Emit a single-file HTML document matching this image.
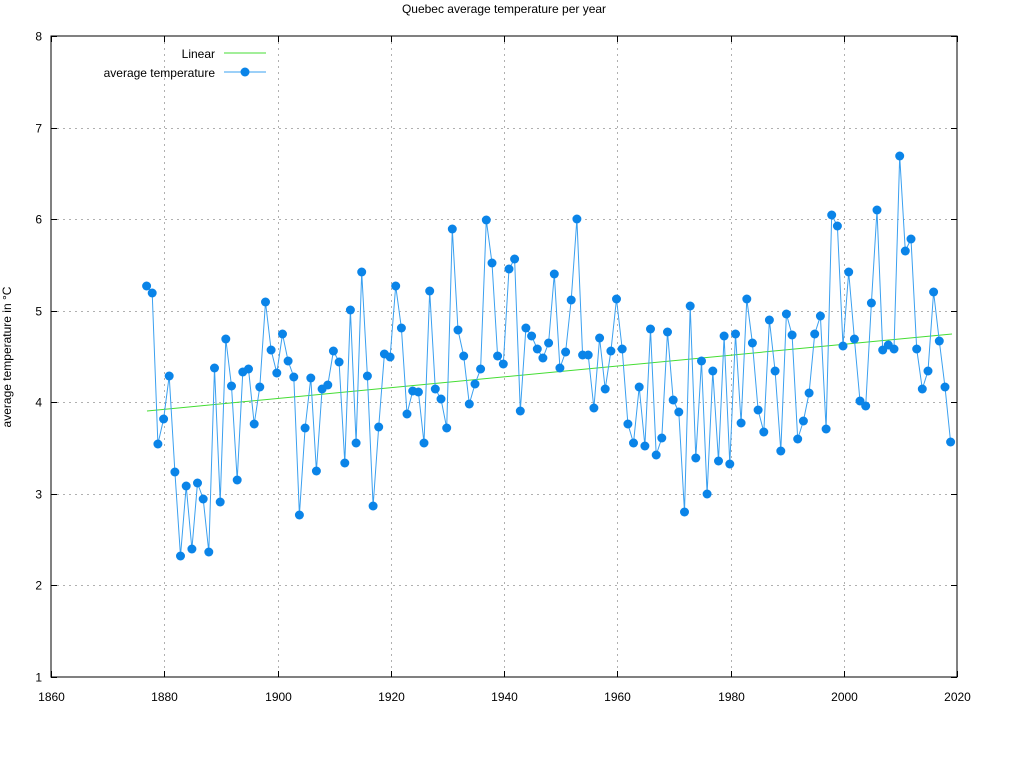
<!DOCTYPE html>
<html><head><meta charset="utf-8"><style>
html,body{margin:0;padding:0;background:#fff;}
svg{display:block;font-family:"Liberation Sans",sans-serif;}
</style></head><body>
<svg id="s" width="1024" height="768" xmlns="http://www.w3.org/2000/svg">
<text x="504" y="13" font-size="12" text-anchor="middle">Quebec average temperature per year</text>
<text transform="translate(11,357) rotate(-90)" font-size="12" text-anchor="middle">average temperature in °C</text>
<g id="grid" stroke="#b0b0b0" stroke-width="1" stroke-dasharray="2,4"></g>
<g id="ticks" stroke="#000" stroke-width="1"></g>
<g id="labels" font-size="12"></g>
<rect x="51" y="36" width="906" height="641" fill="none" stroke="#000" stroke-width="1"/>
<line x1="147" y1="411" x2="952" y2="334" stroke="#44dd33" stroke-width="1"/>
<polyline id="pl" fill="none" stroke="#3aa0f0" stroke-width="1"/>
<g id="dots" fill="#0a84e8"></g>
<text x="215" y="58" font-size="12" text-anchor="end">Linear</text>
<line x1="224" y1="53" x2="266" y2="53" stroke="#44dd33" stroke-width="1"/>
<text x="215" y="77" font-size="12" text-anchor="end">average temperature</text>
<line x1="224" y1="72" x2="266" y2="72" stroke="#3aa0f0" stroke-width="1"/>
<circle cx="245" cy="72" r="4.5" fill="#0a84e8"/>
</svg>
<script>
var ys=[286,293,444,419,376,472,556,486,549,483,499,552,368,502,339,386,480,372,369,424,387,302,350,373,334,361,377,515,428,378,471,389,385,351,362,463,310,443,272,376,506,427,354,357,286,328,414,391,392,443,291,389,399,428,229,330,356,404,384,369,220,263,356,364,269,259,411,328,336,349,358,343,274,368,352,300,219,355,355,408,338,389,351,299,349,424,443,387,446,329,455,438,332,400,412,512,306,458,361,494,371,461,336,464,334,423,299,343,410,432,320,371,451,314,335,439,421,393,334,316,429,215,226,346,272,339,401,406,303,210,350,345,349,156,251,239,349,389,371,292,341,387,442];
var NS="http://www.w3.org/2000/svg";
function el(p,n,a,t){var e=document.createElementNS(NS,n);for(var k in a)e.setAttribute(k,a[k]);if(t)e.textContent=t;document.getElementById(p).appendChild(e);}
var pts=[];
for(var i=0;i<ys.length;i++){var x=51+(1877+i-1860)*5.6625-0.7;pts.push(x.toFixed(1)+","+ys[i]);el("dots","circle",{cx:x.toFixed(1),cy:ys[i],r:4.5});}
document.getElementById("pl").setAttribute("points",pts.join(" "));
for(var v=1;v<=8;v++){var y=677-(v-1)*641/7;y=Math.round(y)+0.5;
 if(v>1&&v<8)el("grid","line",{x1:51,y1:y,x2:957,y2:y});
 el("ticks","line",{x1:51,y1:y,x2:57,y2:y});el("ticks","line",{x1:957,y1:y,x2:951,y2:y});
 el("labels","text",{x:42,y:y+4,"text-anchor":"end"},String(v));}
for(var yr=1860;yr<=2020;yr+=20){var x=Math.round(51+(yr-1860)*5.6625)+0.5;
 if(yr>1860&&yr<2020)el("grid","line",{x1:x,y1:36,x2:x,y2:677});
 el("ticks","line",{x1:x,y1:677,x2:x,y2:671});el("ticks","line",{x1:x,y1:36,x2:x,y2:42});
 el("labels","text",{x:x,y:701,"text-anchor":"middle"},String(yr));}
</script>
</body></html>
